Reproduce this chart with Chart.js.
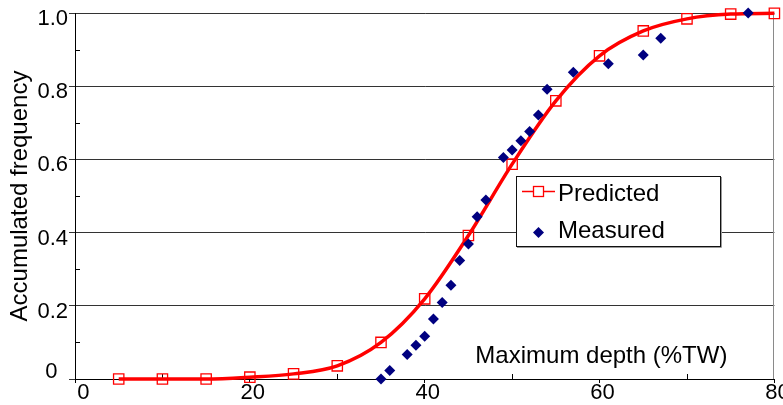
<!DOCTYPE html>
<html>
<head>
<meta charset="utf-8">
<script src="https://cdn.jsdelivr.net/npm/chart.js@4"></script>
<style>
html,body{margin:0;padding:0;background:#fff;overflow:hidden}
#wrap{position:relative;width:783px;height:405px}
</style>
</head>
<body>
<div id="wrap"><canvas id="c" width="783" height="405"></canvas></div>
<script>
// ---- data ----
const predictedX = [5, 10, 15, 20, 25, 30, 35, 40, 45, 50, 55, 60, 65, 70, 75, 80];
const predictedY = [0, 0, 0, 0.005, 0.014, 0.036, 0.10, 0.219, 0.392, 0.587, 0.760, 0.883, 0.951, 0.984, 0.997, 0.999];
const measuredX = [35, 36, 38, 39, 40, 41, 42, 43, 44, 45, 46, 47, 49, 50, 51, 52, 53, 54, 57, 61, 65, 67, 77];
const measuredY = [0, 0.023, 0.067, 0.092, 0.117, 0.164, 0.209, 0.256, 0.324, 0.369, 0.443, 0.489, 0.605, 0.626, 0.651, 0.676, 0.721, 0.792, 0.838, 0.861, 0.885, 0.931, 1.0];
const xTickValues = [0, 20, 40, 60, 80];
const xTickLabels = ['0', '20', '40', '60', '80'];
const yTickValues = [0, 0.2, 0.4, 0.6, 0.8, 1.0];
const yTickLabels = ['0', '0.2', '0.4', '0.6', '0.8', '1.0'];
const xMinorTicks = [10, 30, 50, 70];
const yMinorTicks = [0.1, 0.3, 0.5, 0.7, 0.9];
const seriesNames = ['Predicted', 'Measured'];
const xTitle = 'Maximum depth (%TW)';
const yTitle = 'Accumulated frequency';

// ---- styles ----
const FONT = '"Liberation Sans", Arial, Helvetica, sans-serif';
const RED = '#ff0000';
const NAVY = '#000080';
Chart.defaults.font.family = FONT;
Chart.defaults.color = '#000';

const overlay = {
  id: 'overlay',
  beforeDatasetsDraw(chart) {
    const {ctx, chartArea: a, scales} = chart;
    ctx.save();
    ctx.strokeStyle = '#000';
    ctx.lineWidth = 1;
    ctx.beginPath();
    yMinorTicks.forEach(v => {
      const y = Math.round(scales.y.getPixelForValue(v)) + 0.5;
      ctx.moveTo(a.left, y); ctx.lineTo(a.left + 5, y);
    });
    xMinorTicks.forEach(v => {
      const x = Math.round(scales.x.getPixelForValue(v)) + 0.5;
      ctx.moveTo(x, a.bottom); ctx.lineTo(x, a.bottom - 5);
    });
    ctx.stroke();
    ctx.strokeStyle = '#8a8a8a';
    ctx.beginPath();
    ctx.moveTo(Math.round(a.right) - 0.5, a.top);
    ctx.lineTo(Math.round(a.right) - 0.5, a.bottom);
    ctx.stroke();
    ctx.restore();
  },
  afterDraw(chart) {
    const {ctx, chartArea: a} = chart;
    ctx.save();
    ctx.font = '24px ' + FONT;
    ctx.fillStyle = '#000';
    ctx.textAlign = 'right';
    ctx.textBaseline = 'alphabetic';
    ctx.fillText(xTitle, a.right - 47, a.bottom - 16);

    // legend
    const lx = a.left + 441, ly = a.top + 163, lw = 204, lh = 70;
    ctx.fillStyle = '#fff';
    ctx.fillRect(lx, ly, lw, lh);
    ctx.strokeStyle = '#9a9a9a';
    ctx.lineWidth = 1;
    ctx.beginPath();
    ctx.moveTo(lx + 1, ly + lh + 1.5); ctx.lineTo(lx + lw + 1.5, ly + lh + 1.5); ctx.lineTo(lx + lw + 1.5, ly + 1);
    ctx.stroke();
    ctx.strokeStyle = '#111';
    ctx.strokeRect(lx + 0.5, ly + 0.5, lw, lh);

    const r1 = ly + 15.5, r2 = ly + 56.5, mx = lx + 22.5;
    ctx.strokeStyle = RED;
    ctx.lineWidth = 1.5;
    ctx.beginPath();
    ctx.moveTo(lx + 6, r1); ctx.lineTo(lx + 39, r1);
    ctx.stroke();
    ctx.lineWidth = 1.3;
    ctx.fillStyle = '#fff';
    ctx.fillRect(mx - 5, r1 - 5, 10, 10);
    ctx.strokeRect(mx - 5, r1 - 5, 10, 10);

    ctx.fillStyle = NAVY;
    ctx.beginPath();
    ctx.moveTo(mx - 5.5, r2); ctx.lineTo(mx, r2 - 5.5); ctx.lineTo(mx + 5.5, r2); ctx.lineTo(mx, r2 + 5.5);
    ctx.closePath();
    ctx.fill();

    ctx.fillStyle = '#000';
    ctx.textAlign = 'left';
    ctx.fillText(seriesNames[0], lx + 42, ly + 25);
    ctx.fillText(seriesNames[1], lx + 42, ly + 62);
    ctx.restore();
  }
};

new Chart(document.getElementById('c'), {
  type: 'scatter',
  data: {
    datasets: [
      {
        label: seriesNames[0],
        data: predictedX.map((x, i) => ({x: x, y: predictedY[i]})),
        showLine: true,
        borderColor: RED,
        borderWidth: 3.5,
        cubicInterpolationMode: 'monotone',
        pointStyle: 'rect',
        pointRadius: 7.3,
        pointBorderWidth: 1.3,
        pointBorderColor: RED,
        pointBackgroundColor: 'rgba(0,0,0,0)',
        clip: false,
        order: 1
      },
      {
        label: seriesNames[1],
        data: measuredX.map((x, i) => ({x: x, y: measuredY[i]})),
        showLine: false,
        pointStyle: 'rectRot',
        pointRadius: 5.5,
        pointBorderWidth: 0,
        pointBackgroundColor: NAVY,
        pointBorderColor: NAVY,
        clip: false,
        order: 0
      }
    ]
  },
  options: {
    responsive: false,
    animation: false,
    devicePixelRatio: 1,
    layout: {padding: {top: 13, right: 4, bottom: 0, left: 0}},
    plugins: {legend: {display: false}, tooltip: {enabled: false}},
    scales: {
      x: {
        type: 'linear',
        min: 0, max: 80,
        afterBuildTicks: s => { s.ticks = xTickValues.map(v => ({value: v})); },
        afterFit: s => { s.height = 26; s.paddingLeft = 0; s.paddingRight = 0; },
        ticks: {
          callback: (v, i) => i === 0 ? '\u2009 ' + xTickLabels[0] : xTickLabels[i],
          font: {size: 22},
          color: '#000',
          padding: -3,
          labelOffset: 3,
          maxRotation: 0,
          autoSkip: false
        },
        grid: {drawOnChartArea: false, drawTicks: true, tickLength: 4, color: '#000', lineWidth: 1},
        border: {display: true, color: '#000', width: 1}
      },
      y: {
        type: 'linear',
        min: 0, max: 1,
        afterBuildTicks: s => { s.ticks = yTickValues.map(v => ({value: v})); },
        afterFit: s => { s.width = 75; s.paddingTop = 0; s.paddingBottom = 0; },
        ticks: {
          callback: (v, i) => i === 0 ? [yTickLabels[0] + ' \u2009', ''] : yTickLabels[i],
          font: {size: 22},
          color: '#000',
          padding: 1,
          labelOffset: 6,
          autoSkip: false
        },
        grid: {drawOnChartArea: true, drawTicks: true, tickLength: 6, color: '#333', lineWidth: 1},
        border: {display: true, color: '#000', width: 1},
        title: {display: true, text: yTitle, font: {size: 24}, color: '#000', padding: {top: 6, bottom: 0}}
      }
    }
  },
  plugins: [overlay]
});
</script>
</body>
</html>
